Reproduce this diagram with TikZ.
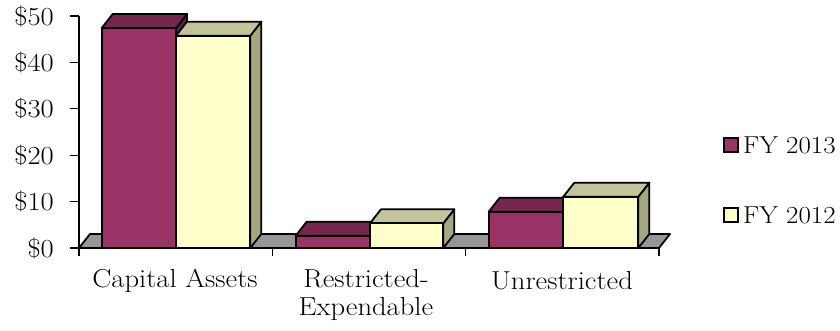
\documentclass[tikz,border=0pt]{standalone}
\usepackage{fontspec}
\setmainfont{Latin Modern Roman}[FakeStretch=1.1]
\usepackage{tikz}
\definecolor{plumF}{HTML}{993366}
\definecolor{plumT}{HTML}{74264F}
\definecolor{plumS}{HTML}{5E1F42}
\definecolor{creamF}{HTML}{FFFFCC}
\definecolor{creamT}{HTML}{C4C49C}
\definecolor{creamS}{HTML}{A6A680}
\definecolor{floorG}{HTML}{969696}
\newcommand\mybar[6]{%
  \filldraw[fill=#6, barline] (#2,248) -- (#2+11,234) -- (#2+11,#3-14) -- (#2,#3) -- cycle;
  \filldraw[fill=#5, barline] (#1,#3) -- (#1+11,#3-14) -- (#2+11,#3-14) -- (#2,#3) -- cycle;
  \filldraw[fill=#4, barline] (#1,248) rectangle (#2,#3);
}
\begin{document}
\begin{tikzpicture}[x=1pt,y=-1pt,
  barline/.style={draw=black, line width=1.8pt, line join=round},
  axisline/.style={draw=black, line width=1.2pt},
  lbl/.style={font=\fontsize{26}{30}\selectfont, inner sep=0pt},
  leglbl/.style={font=\fontsize{24.5}{28}\selectfont, inner sep=0pt, anchor=west},
  legbox/.style={draw=black, line width=1.8pt, minimum width=14pt, minimum height=14pt, inner sep=0pt}]
\useasboundingbox (0,0) rectangle (840,331);
% floor
\filldraw[fill=floorG, barline] (79,248) -- (90,234) -- (670,234) -- (659,248) -- cycle;
% y axis
\draw[axisline] (79,16) -- (79,248);
\foreach \yy in {16,62.4,108.8,155.2,201.6,248} \draw[axisline] (70,\yy) -- (79,\yy);
\foreach \xx in {79,272.3,465.6,659} \draw[axisline] (\xx,248) -- (\xx,256);
% bars
\mybar{101.7}{176}{28}{plumF}{plumT}{plumS}
\mybar{176}{250.3}{35.7}{creamF}{creamT}{creamS}
\mybar{295.7}{370}{235.7}{plumF}{plumT}{plumS}
\mybar{370}{443.3}{223.3}{creamF}{creamT}{creamS}
\mybar{488.7}{563.3}{211.7}{plumF}{plumT}{plumS}
\mybar{563.3}{638.3}{196.7}{creamF}{creamT}{creamS}
% y labels
\node[lbl, anchor=east] (y50) at (54,16) {\$50};
\node[lbl, anchor=east] (y40) at (54,62.4) {\$40};
\node[lbl, anchor=east] (y30) at (54,108.8) {\$30};
\node[lbl, anchor=east] (y20) at (54,155.2) {\$20};
\node[lbl, anchor=east] (y10) at (54,201.6) {\$10};
\node[lbl, anchor=east] (y0) at (54,248) {\$0};
% x labels
\node[lbl] (c1) at (175,281) {Capital Assets};
\node[lbl, align=center, font=\fontsize{26}{28}\selectfont] (c2) at (366,295) {Restricted-\\Expendable};
\node[lbl] (c3) at (562,281) {Unrestricted};
% legend
\node[legbox, fill=plumF] (k1) at (731,145) {};
\node[leglbl] (t1) at (743,145) {FY 2013};
\node[legbox, fill=creamF] (k2) at (731,215) {};
\node[leglbl] (t2) at (743,215) {FY 2012};
\end{tikzpicture}
\end{document}
